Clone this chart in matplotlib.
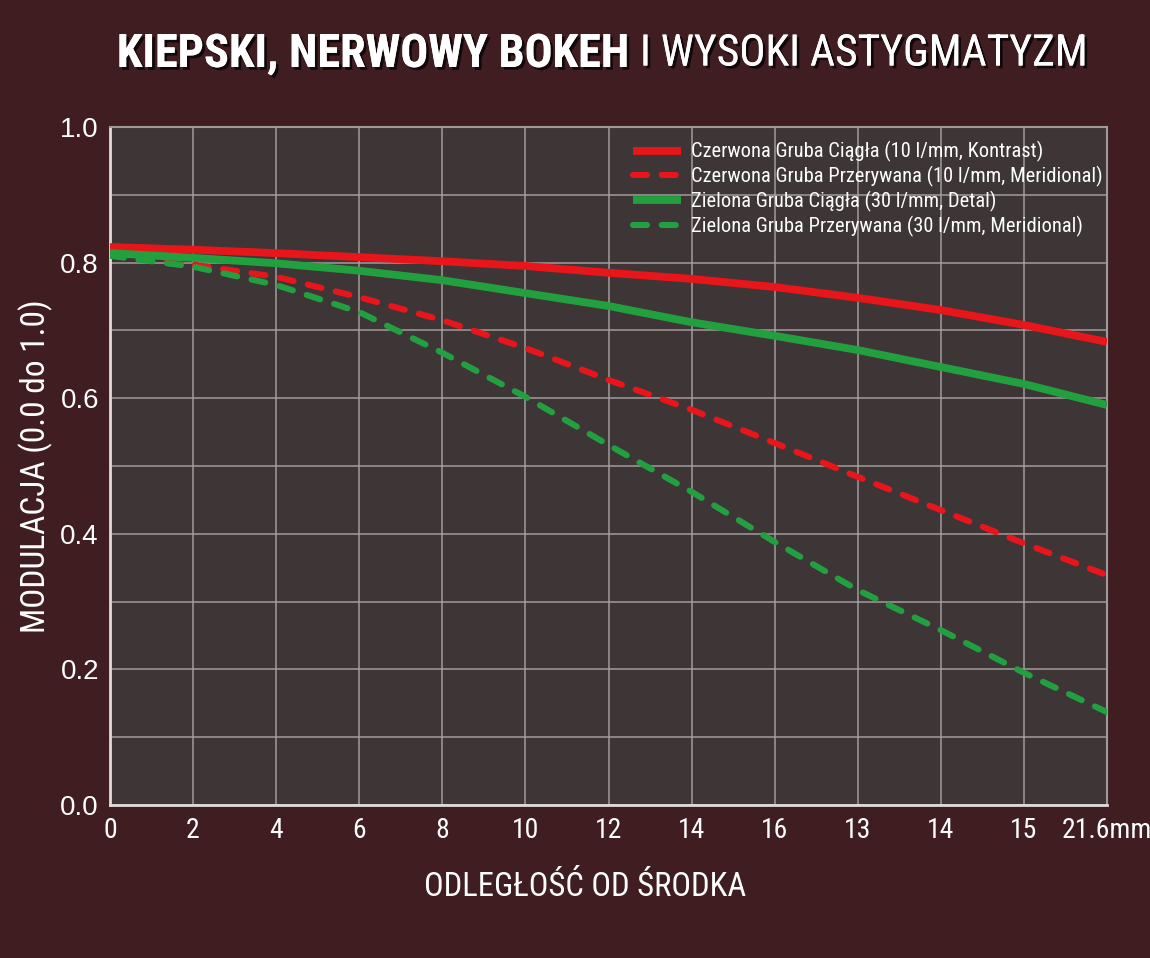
import matplotlib
matplotlib.use("Agg")
import matplotlib.pyplot as plt
import matplotlib.patheffects as pe
import matplotlib.transforms as mtransforms
import numpy as np

# x positions are evenly spaced slots, labels as printed on the chart
x_pos = [0, 2, 4, 6, 8, 10, 12, 14, 16, 18, 20, 22, 24]
x_labels = ['0', '2', '4', '6', '8', '10', '12', '14', '16', '13', '14', '15', '21.6mm']

red_solid = [0.823, 0.819, 0.814, 0.808, 0.802, 0.795, 0.785, 0.776, 0.764, 0.748, 0.730, 0.708, 0.683]
red_dash = [0.820, 0.797, 0.779, 0.749, 0.715, 0.674, 0.627, 0.583, 0.534, 0.484, 0.435, 0.386, 0.339]
green_solid = [0.814, 0.807, 0.799, 0.788, 0.774, 0.755, 0.736, 0.712, 0.692, 0.671, 0.646, 0.621, 0.590]
green_dash = [0.810, 0.794, 0.767, 0.727, 0.667, 0.602, 0.531, 0.462, 0.388, 0.317, 0.258, 0.195, 0.137]

labels = ['Czerwona Gruba Ciągła (10 l/mm, Kontrast)',
          'Czerwona Gruba Przerywana (10 l/mm, Meridional)',
          'Zielona Gruba Ciągła (30 l/mm, Detal)',
          'Zielona Gruba Przerywana (30 l/mm, Meridional)']

NARROW = ['Roboto Condensed', 'DejaVu Sans']
BG = '#3f1d21'
PLOT_BG = '#3d3536'
RED = '#e8161b'
GREEN = '#22a040'

fig = plt.figure(figsize=(11.5, 9.58), dpi=100, facecolor=BG)
ax = fig.add_axes([110 / 1150, 1 - 805 / 958, (1107 - 110) / 1150, (805 - 127) / 958])
ax.set_facecolor(PLOT_BG)

dash_pat = (2.3, 2.4)
ax.plot(x_pos, red_solid, color=RED, lw=5.6, solid_capstyle='butt', label=labels[0], zorder=4)
ax.plot(x_pos, red_dash, color=RED, lw=4.4, dashes=dash_pat, dash_capstyle='round', label=labels[1], zorder=3)
ax.plot(x_pos, green_solid, color=GREEN, lw=5.6, solid_capstyle='butt', label=labels[2], zorder=4)
ax.plot(x_pos, green_dash, color=GREEN, lw=4.4, dashes=dash_pat, dash_capstyle='round', label=labels[3], zorder=3)

ax.set_xlim(0, 24)
ax.set_ylim(0, 1.0)
ax.set_xticks(x_pos)
ax.set_xticklabels(x_labels, family=NARROW, fontsize=20, color='white')
# last label sits a bit left of its tick in the original
last = ax.get_xticklabels()[-1]
last.set_transform(last.get_transform() + mtransforms.ScaledTranslation(-0.1, 0, fig.dpi_scale_trans))
ax.set_yticks(np.arange(0, 1.01, 0.2))
ax.set_yticklabels(['0.0', '0.2', '0.4', '0.6', '0.8', '1.0'],
                   family='Liberation Sans', fontsize=20, color='white')
ax.set_yticks(np.arange(0.1, 1.0, 0.2), minor=True)
ax.tick_params(axis='both', which='both', length=0)
ax.tick_params(axis='x', pad=9)
ax.tick_params(axis='y', pad=8)

ax.grid(True, which='both', color='#a8a2a2', lw=1.3, alpha=0.8, zorder=1)
ax.set_axisbelow(True)

for s in ['left', 'bottom']:
    ax.spines[s].set_color('#e0dcdc')
    ax.spines[s].set_linewidth(2)
for s in ['top', 'right']:
    ax.spines[s].set_color('#a09a9a')
    ax.spines[s].set_linewidth(1.5)

ax.set_ylabel('MODULACJA (0.0 do 1.0)', family=NARROW, fontsize=24, color='white', labelpad=5)
ax.set_xlabel('ODLEGŁOŚĆ OD ŚRODKA', family=NARROW, fontsize=23.5, color='white',
              labelpad=19, x=(585 - 110) / 997)

leg = ax.legend(loc='upper right', bbox_to_anchor=(1.01, 1.0), frameon=False,
                prop={'family': NARROW, 'size': 14.8}, labelcolor='white',
                handlelength=2.3, handletextpad=0.5, labelspacing=0.18,
                borderaxespad=0.3)

shadow = [pe.withSimplePatchShadow(offset=(2, -2), shadow_rgbFace='black', alpha=0.7), pe.Normal()]
fig.text(628 / 1150, 1 - 54 / 958, 'KIEPSKI, NERWOWY BOKEH', family=NARROW, weight='bold',
         fontsize=33.3, color='white', ha='right', va='center', path_effects=shadow)
fig.text(640 / 1150, 1 - 54 / 958, 'I WYSOKI ASTYGMATYZM', family=NARROW,
         fontsize=31.3, color='white', ha='left', va='center', path_effects=shadow)

fig.savefig('out.png', dpi=100, facecolor=BG)
